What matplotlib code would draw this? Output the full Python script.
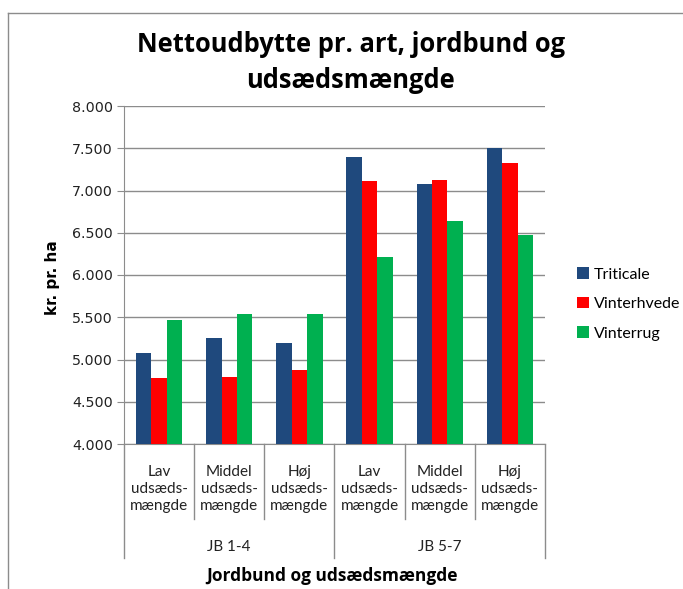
import matplotlib
matplotlib.use('Agg')
import matplotlib.pyplot as plt
import matplotlib.transforms as mtransforms
from matplotlib.lines import Line2D
from matplotlib.ticker import FuncFormatter
import numpy as np

# data
categories = ['Lav\nudsæds-\nmængde', 'Middel\nudsæds-\nmængde', 'Høj\nudsæds-\nmængde',
              'Lav\nudsæds-\nmængde', 'Middel\nudsæds-\nmængde', 'Høj\nudsæds-\nmængde']
groups = ['JB 1-4', 'JB 5-7']
series_names = ['Triticale', 'Vinterhvede', 'Vinterrug']
triticale = [5080, 5250, 5190, 7400, 7080, 7500]
vinterhvede = [4780, 4790, 4880, 7110, 7130, 7330]
vinterrug = [5470, 5540, 5540, 6210, 6640, 6470]
colors = ['#1F497D', '#FF0000', '#00B050']

W, H = 683, 589
fig = plt.figure(figsize=(W / 100, H / 100), dpi=100)

# chart-area border (left and top edges visible)
fig.add_artist(Line2D([8 / W, 8 / W], [0, 1 - 13 / H], transform=fig.transFigure, color='#8c8c8c', lw=1))
fig.add_artist(Line2D([8 / W, 1], [1 - 13 / H, 1 - 13 / H], transform=fig.transFigure, color='#8c8c8c', lw=1))

left, right, top, bottom = 124, 545, 106, 444
ax = fig.add_axes([left / W, 1 - bottom / H, (right - left) / W, (bottom - top) / H])

x = np.arange(len(categories))
bw = 0.22
for i, (vals, name) in enumerate(zip([triticale, vinterhvede, vinterrug], series_names)):
    ax.bar(x + (i - 1) * bw, vals, bw, color=colors[i], label=name, zorder=3)

ax.set_xlim(-0.5, len(categories) - 0.5)
ax.set_ylim(4000, 8000)
ax.set_yticks(np.arange(4000, 8001, 500))
ax.yaxis.set_major_formatter(FuncFormatter(lambda v, p: f'{int(v):,}'.replace(',', '.')))
ax.grid(axis='y', color='#8c8c8c', lw=1, zorder=0)
ax.tick_params(axis='y', length=5, color='#8c8c8c', labelsize=10.3, pad=3, labelcolor='#222222')
for s in ['top', 'right']:
    ax.spines[s].set_visible(False)
ax.spines['left'].set_color('#8c8c8c')
ax.spines['bottom'].set_color('#8c8c8c')

# category labels and separators below the axis
ax.set_xticks([])
trans = mtransforms.blended_transform_factory(ax.transData, ax.transAxes)
ah = bottom - top
for xi, lab in zip(x, categories):
    ax.text(xi, (bottom - 489) / ah, lab, transform=trans, ha='center', va='center',
            fontsize=11, family='Lato', linespacing=1.3, color='#222222')
for b in np.arange(-0.5, len(categories), 1.0):
    outer = b in (-0.5, 2.5, 5.5)
    y_end = (bottom - (558 if outer else 519)) / ah
    ax.add_line(Line2D([b, b], [0, y_end], transform=trans, color='#8c8c8c', lw=1, clip_on=False))
for gi, g in enumerate(groups):
    ax.text(gi * 3 + 1, (bottom - 547) / ah, g, transform=trans, ha='center', va='center',
            fontsize=11, family='Lato', color='#222222')

fig.text(332 / W, 1 - 576 / H, 'Jordbund og udsædsmængde', ha='center', va='center',
         fontsize=12.5, fontweight='bold', family='Open Sans')
fig.text(52 / W, 1 - 278 / H, 'kr. pr. ha', ha='center', va='center', rotation=90,
         fontsize=11, fontweight='bold')
title_lines = ['Nettoudbytte pr. art, jordbund og', 'udsædsmængde']
for line, base in zip(title_lines, [52, 88]):
    fig.text(351 / W, 1 - base / H, line, ha='center', va='baseline',
             fontsize=18.4, fontweight='bold', family='Open Sans')

ax.legend(loc='center left', bbox_to_anchor=(563 / W, 1 - 304 / H), bbox_transform=fig.transFigure,
          frameon=False, handlelength=0.75, handleheight=0.75, handletextpad=0.3, labelspacing=0.95,
          prop={'family': 'Lato', 'size': 11.5})

fig.savefig('out.png', dpi=100)
